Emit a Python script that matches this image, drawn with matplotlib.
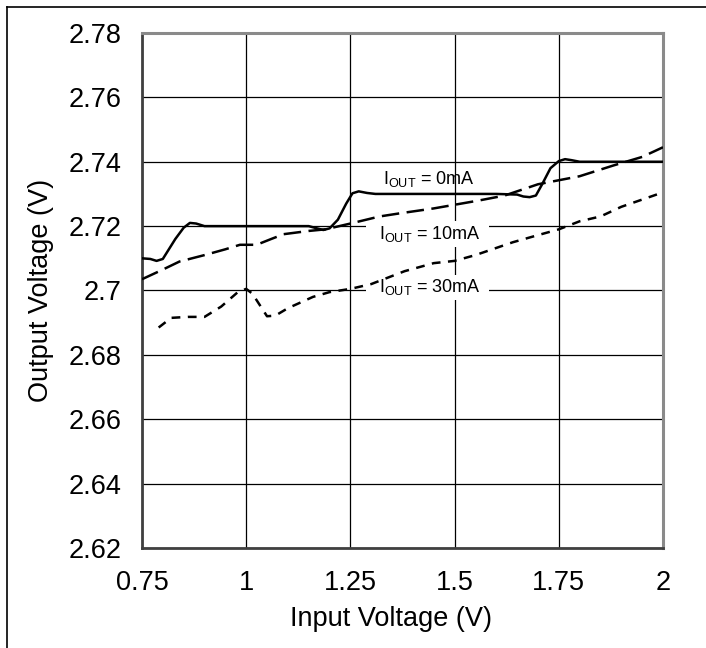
import matplotlib
matplotlib.use('Agg')
import matplotlib.pyplot as plt
from matplotlib.lines import Line2D

# Output voltage vs input voltage, three load currents
vin_0ma = [0.75, 0.77, 0.785, 0.80, 0.83, 0.85, 0.865, 0.88, 0.90, 1.0, 1.10,
           1.15, 1.17, 1.185, 1.20, 1.22, 1.24, 1.255, 1.27, 1.29, 1.31, 1.40,
           1.50, 1.60, 1.65, 1.665, 1.68, 1.695, 1.71, 1.73, 1.75, 1.765, 1.78,
           1.80, 1.85, 2.0]
vout_0ma = [2.7100, 2.7098, 2.7092, 2.7098, 2.7160, 2.7195, 2.7210, 2.7208,
            2.7200, 2.7200, 2.7200, 2.7200, 2.7193, 2.7188, 2.7193, 2.7220,
            2.7270, 2.7302, 2.7308, 2.7303, 2.7300, 2.7300, 2.7300, 2.7300,
            2.7298, 2.7292, 2.7290, 2.7295, 2.7330, 2.7380, 2.7402, 2.7408,
            2.7405, 2.7400, 2.7400, 2.7400]

vin_10ma = [0.75, 0.80, 0.84, 0.90, 0.95, 0.985, 1.025, 1.06, 1.09, 1.15, 1.19,
            1.25, 1.32, 1.37, 1.45, 1.56, 1.62, 1.70, 1.80, 1.88, 1.95, 2.0]
vout_10ma = [2.7035, 2.7065, 2.709, 2.711, 2.7128, 2.7142, 2.7142, 2.716,
             2.7175, 2.7185, 2.719, 2.7208, 2.723, 2.724, 2.7255, 2.728,
             2.7295, 2.733, 2.7355, 2.7388, 2.7415, 2.7445]

vin_30ma = [0.79, 0.82, 0.86, 0.90, 0.94, 0.98, 1.0, 1.015, 1.035, 1.05, 1.07,
            1.10, 1.16, 1.20, 1.25, 1.30, 1.38, 1.45, 1.50, 1.55, 1.64, 1.70,
            1.75, 1.80, 1.85, 1.90, 2.0]
vout_30ma = [2.6885, 2.6915, 2.6918, 2.6918, 2.6950, 2.6995, 2.7005, 2.6990,
             2.6950, 2.6920, 2.6922, 2.6945, 2.6980, 2.6995, 2.7005, 2.7020,
             2.7060, 2.7085, 2.7092, 2.7110, 2.7150, 2.7172, 2.7190, 2.7215,
             2.7230, 2.7260, 2.7305]

x_ticks = [0.75, 1, 1.25, 1.5, 1.75, 2]
x_ticklabels = ['0.75', '1', '1.25', '1.5', '1.75', '2']
y_ticks = [2.62, 2.64, 2.66, 2.68, 2.70, 2.72, 2.74, 2.76, 2.78]
y_ticklabels = ['2.62', '2.64', '2.66', '2.68', '2.7', '2.72', '2.74', '2.76', '2.78']

plt.rcParams['font.family'] = ['Liberation Sans', 'DejaVu Sans']
plt.rcParams['mathtext.fontset'] = 'custom'
plt.rcParams['mathtext.rm'] = 'Liberation Sans'

fig = plt.figure(figsize=(7.06, 6.48), dpi=100)
ax = fig.add_axes([0.2011, 0.1543, 0.7380, 0.7948])

ax.plot(vin_0ma, vout_0ma, color='black', lw=1.8, zorder=3)
ax.plot(vin_10ma, vout_10ma, color='black', lw=1.8, dashes=(7, 3), zorder=3)
ax.plot(vin_30ma, vout_30ma, color='black', lw=1.8, dashes=(3.5, 3), zorder=3)

ax.set_xlim(0.75, 2)
ax.set_ylim(2.62, 2.78)
ax.set_xticks(x_ticks)
ax.set_xticklabels(x_ticklabels)
ax.set_yticks(y_ticks)
ax.set_yticklabels(y_ticklabels)
ax.tick_params(length=0, labelsize=19.5)
ax.tick_params(axis='x', pad=16)
ax.tick_params(axis='y', pad=15)
ax.grid(True, color='black', lw=0.9, zorder=0)
ax.set_axisbelow(True)

for side in ['top', 'right']:
    ax.spines[side].set_color('#8a8a8a')
    ax.spines[side].set_linewidth(2.2)
for side in ['left', 'bottom']:
    ax.spines[side].set_color('#404040')
    ax.spines[side].set_linewidth(2.0)

ax.set_xlabel('Input Voltage (V)', fontsize=19.5)
ax.xaxis.set_label_coords(0.478, -0.113)
ax.set_ylabel('Output Voltage (V)', fontsize=19.5, labelpad=10)

box = dict(boxstyle='square,pad=0.15', facecolor='white', edgecolor='none')
ax.text(1.328, 2.7345, r'I$_\mathrm{OUT}$ = 0mA', fontsize=13,
        va='center', ha='left', zorder=2)
ax.text(1.295, 2.7175, r'  I$_\mathrm{OUT}$ = 10mA  ', fontsize=13,
        va='center', ha='left', bbox=box, zorder=2)
ax.text(1.295, 2.7010, r'  I$_\mathrm{OUT}$ = 30mA  ', fontsize=13,
        va='center', ha='left', bbox=box, zorder=2)

# outer frame (only top and left edges show)
fig.add_artist(Line2D([7 / 706, 7 / 706], [0, 1 - 7 / 648], color='black', lw=1.2))
fig.add_artist(Line2D([7 / 706, 1], [1 - 7 / 648, 1 - 7 / 648], color='black', lw=1.2))

fig.savefig('out.png', dpi=100)
